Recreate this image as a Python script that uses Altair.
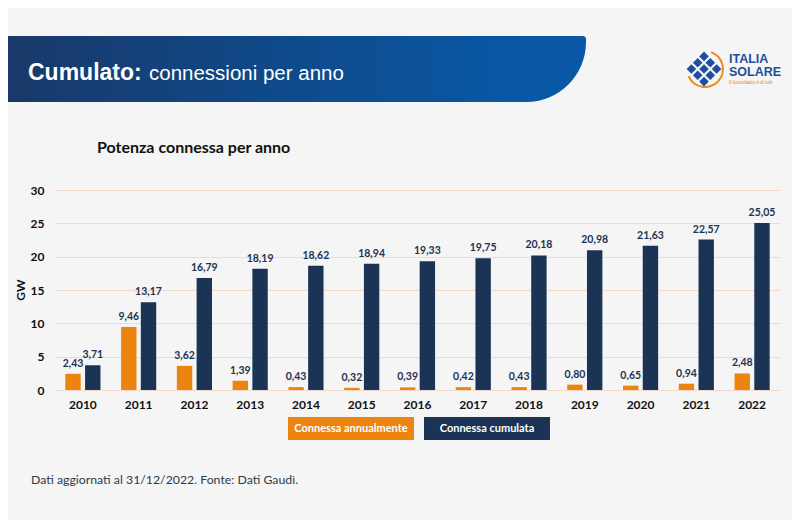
import math
import altair as alt
import pandas as pd

# ---------------- data ----------------
years = [str(y) for y in range(2010, 2023)]
annual = [2.43, 9.46, 3.62, 1.39, 0.43, 0.32, 0.39, 0.42, 0.43, 0.80, 0.65, 0.94, 2.48]
cumulative = [3.71, 13.17, 16.79, 18.19, 18.62, 18.94, 19.33, 19.75, 20.18, 20.98, 21.63, 22.57, 25.05]
series = ["Connessa annualmente", "Connessa cumulata"]
colors = ["#EC8410", "#1B3456"]
y_ticks = [0, 5, 10, 15, 20, 25, 30]

header_bold = "Cumulato:"
header_rest = "connessioni per anno"
chart_title = "Potenza connessa per anno"
y_title = "GW"
footer = "Dati aggiornati al 31/12/2022. Fonte: Dati Gaudì."
logo_lines = ["ITALIA", "SOLARE"]
logo_tag = "Il fotovoltaico è di tutti"


def fmt(v):
    return f"{v:.2f}".replace(".", ",")


rows = []
for i, yr in enumerate(years):
    a, c = annual[i], cumulative[i]
    rows.append(dict(year=yr, series=series[0], value=a, label=fmt(a)))
    rows.append(dict(year=yr, series=series[1], value=c, label=fmt(c)))
df = pd.DataFrame(rows)

W, H = 725, 200
FONT = "Lato"

x_axis = alt.Axis(title=None, labelAngle=0, ticks=False, domain=False, labelFont=FONT,
                  labelFontWeight="bold", labelFontSize=12, labelPadding=9, labelColor="#111111",
                  grid=False)
y_axis = alt.Axis(title=None, values=y_ticks, ticks=False, domain=False, labelFont=FONT,
                  labelFontWeight="bold", labelFontSize=12, labelPadding=11, labelColor="#111111",
                  grid=True, gridColor="#F3D9C9", gridWidth=1)

x_enc = alt.X("year:N", sort=years, axis=x_axis,
              scale=alt.Scale(paddingInner=0.37, paddingOuter=0.185))
xo_enc = alt.XOffset("series:N", sort=series, scale=alt.Scale(paddingInner=0.22))
y_enc = alt.Y("value:Q", scale=alt.Scale(domain=[0, 30]), axis=y_axis)
color_enc = alt.Color("series:N", scale=alt.Scale(domain=series, range=colors), legend=None)

bars = alt.Chart(df).mark_bar().encode(x=x_enc, xOffset=xo_enc, y=y_enc, color=color_enc)

labels = alt.Chart(df).mark_text(font=FONT, fontWeight="bold", fontSize=10.5, color="#1D3352",
                                 baseline="middle", dy=-10).encode(
    x=x_enc, xOffset=xo_enc, y=y_enc, text="label:N")

one = alt.Data(values=[{}])


def txt(text, x, y, **kw):
    return alt.Chart(one).mark_text(text=text, **kw).encode(x=alt.value(x), y=alt.value(y))


# Header banner (page coords minus plot origin at (55,190))
grad = alt.Gradient(gradient="linear", x1=0, x2=1, y1=0, y2=0,
                    stops=[alt.GradientStop(color="#1A3766", offset=0),
                           alt.GradientStop(color="#0F4A8A", offset=0.55),
                           alt.GradientStop(color="#0858A6", offset=1)])
banner = alt.Chart(one).mark_rect(color=grad).encode(
    x=alt.value(-70), x2=alt.value(471), y=alt.value(-154), y2=alt.value(-88))
banner_top = alt.Chart(one).mark_rect(color="#0858A6", cornerRadiusTopRight=3).encode(
    x=alt.value(470), x2=alt.value(531), y=alt.value(-154), y2=alt.value(-146))
banner_arc = alt.Chart(one).mark_arc(color="#0858A6", radius=60, theta=math.pi / 2,
                                     theta2=math.pi).encode(
    x=alt.value(471), y=alt.value(-148))

head1 = txt(header_bold, -27, -110, font="Liberation Sans", fontWeight="bold", fontSize=23,
            color="white", align="left", baseline="alphabetic")
head2 = txt(header_rest, 94, -110, font="Liberation Sans", fontSize=20.5,
            color="white", align="left", baseline="alphabetic")

# Logo
logo_pts = []
for i in range(3):
    for j in range(3):
        logo_pts.append(dict(px=704 - 55 + (i - j) * 6.3, py=69 - 190 + (i + j - 2) * 6.3))
logo_sq = alt.Chart(pd.DataFrame(logo_pts)).mark_point(
    shape="square", filled=True, opacity=1, color="#1F4E9E", size=46, angle=45).encode(
    x=alt.X("px:Q", scale=None), y=alt.Y("py:Q", scale=None))
logo_ring = alt.Chart(one).mark_arc(color="#F08A1C", radius=19, radius2=17,
                                    theta=0.35, theta2=4.3).encode(
    x=alt.value(705 - 55), y=alt.value(69 - 190))
logo_t1 = txt(logo_lines[0], 729 - 55, 59 - 190, font="Liberation Sans", fontWeight="bold",
              fontSize=12.5, color="#1F4E9E", align="left", baseline="middle")
logo_t2 = txt(logo_lines[1], 729 - 55, 72 - 190, font="Liberation Sans", fontWeight="bold",
              fontSize=12.5, color="#1F4E9E", align="left", baseline="middle")
logo_t3 = txt(logo_tag, 729 - 55, 83 - 190, font="Liberation Sans", fontSize=4.5,
              color="#E8821A", align="left", baseline="middle")

title = txt(chart_title, 42, -42, font=FONT, fontWeight="bold", fontSize=16,
            color="#111111", align="left", baseline="middle")
ytitle = txt(y_title, -34, 100, font=FONT, fontWeight="bold", fontSize=12,
             color="#111111", align="center", baseline="middle", angle=270)

# Legend boxes
leg1 = alt.Chart(one).mark_rect(color=colors[0]).encode(
    x=alt.value(233), x2=alt.value(359), y=alt.value(227), y2=alt.value(250))
leg2 = alt.Chart(one).mark_rect(color=colors[1]).encode(
    x=alt.value(369), x2=alt.value(495), y=alt.value(227), y2=alt.value(250))
leg1t = txt(series[0], 296, 238.5, font=FONT, fontWeight="bold", fontSize=11,
            color="white", align="center", baseline="middle")
leg2t = txt(series[1], 432, 238.5, font=FONT, fontWeight="bold", fontSize=11,
            color="white", align="center", baseline="middle")

foot = txt(footer, -24, 290, font=FONT, fontSize=12.3, color="#2E3A4C",
           align="left", baseline="middle")

chart = alt.layer(
    banner, banner_top, banner_arc, head1, head2,
    logo_ring, logo_sq, logo_t1, logo_t2, logo_t3,
    title, ytitle,
    bars, labels,
    leg1, leg2, leg1t, leg2t, foot,
).properties(
    width=W, height=H,
    autosize=alt.AutoSizeParams(type="none"),
    padding={"left": 47, "top": 182, "right": 12, "bottom": 130},
    background="#F5F5F5",
).configure_view(stroke=None)

chart.save("out.html", embed_options={"renderer": "svg", "actions": False})
